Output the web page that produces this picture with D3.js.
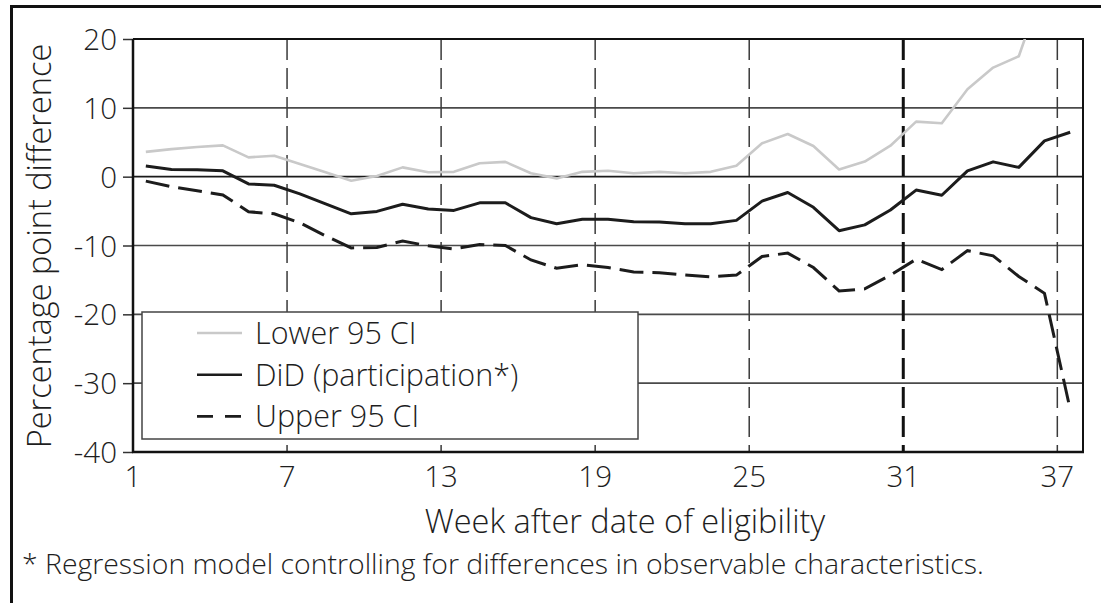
<!DOCTYPE html>
<html>
<head>
<meta charset="utf-8">
<script src="https://cdn.jsdelivr.net/npm/d3@7"></script>
<style>
  html, body { margin: 0; padding: 0; background: #fff; }
  svg { display: block; font-family: "Open Sans", "Noto Sans", sans-serif; font-weight: 350; }
</style>
</head>
<body>
<svg id="chart" width="1101" height="603"></svg>
<script>
// Week categories and labelled ticks
const weeks = d3.range(1, 38);
const weekTicks = [1, 7, 13, 19, 25, 31, 37];
const yTicks = [20, 10, 0, -10, -20, -30, -40];

// Series (percentage points), one value per week
const lowerCI = [3.6, 4.0, 4.3, 4.55, 2.8, 3.05, 1.85, 0.65, -0.6, 0.1, 1.35, 0.65, 0.7, 1.95, 2.15, 0.5, -0.25, 0.7, 0.85, 0.5, 0.7, 0.5, 0.7, 1.6, 4.85, 6.2, 4.45, 1.05, 2.2, 4.5, 8.0, 7.75, 12.7, 15.85, 17.5, 28.2, 46.5];
const did = [1.55, 1.05, 1.0, 0.85, -1.05, -1.25, -2.5, -3.95, -5.4, -5.05, -4.0, -4.7, -4.9, -3.8, -3.8, -5.95, -6.85, -6.2, -6.2, -6.55, -6.6, -6.85, -6.85, -6.35, -3.55, -2.3, -4.45, -7.85, -7.0, -4.85, -1.95, -2.7, 0.85, 2.15, 1.35, 5.2, 6.45];
const upperCI = [-0.65, -1.45, -2.05, -2.65, -5.1, -5.4, -6.7, -8.6, -10.35, -10.3, -9.35, -10.05, -10.5, -9.85, -10.0, -12.1, -13.3, -12.8, -13.2, -13.85, -13.95, -14.3, -14.55, -14.3, -11.6, -11.1, -13.2, -16.6, -16.3, -14.3, -12.0, -13.5, -10.75, -11.5, -14.5, -16.95, -33.8];

const seriesNames = ["Lower 95 CI", "DiD (participation*)", "Upper 95 CI"];
const highlightWeek = 31;

const svg = d3.select("#chart");
const plotL = 133, plotR = 1083, plotT = 39, plotB = 452;
const textColor = "#1e1e1e";

const x = d3.scaleBand().domain(weeks).range([plotL, plotR]).paddingInner(0).paddingOuter(0);
const y = d3.scaleLinear().domain([-40, 20]).range([plotB, plotT]);
const cx = w => x(w) + x.bandwidth() / 2;

// Outer frame (extends past the page edge on right/bottom)
svg.append("path")
  .attr("d", "M11.5,640 L11.5,6.5 L1140,6.5")
  .attr("fill", "none").attr("stroke", "#111").attr("stroke-width", 3);

svg.append("defs").append("clipPath").attr("id", "plotClip")
  .append("rect").attr("x", plotL).attr("y", plotT).attr("width", plotR - plotL).attr("height", plotB - plotT);

// Horizontal gridlines
svg.append("g").selectAll("line")
  .data(yTicks.filter(v => v !== -40 && v !== 20))
  .join("line")
  .attr("x1", plotL).attr("x2", plotR)
  .attr("y1", d => y(d)).attr("y2", d => y(d))
  .attr("stroke", d => d === 0 ? "#1a1a1a" : "#4a4a4a")
  .attr("stroke-width", 1.6);

// Vertical dashed week markers
svg.append("g").selectAll("line")
  .data(weekTicks.filter(w => w !== 1))
  .join("line")
  .attr("x1", d => x(d)).attr("x2", d => x(d))
  .attr("y1", plotT).attr("y2", plotB)
  .attr("stroke", d => d === highlightWeek ? "#111" : "#3a3a3a")
  .attr("stroke-width", d => d === highlightWeek ? 3 : 1.5)
  .attr("stroke-dasharray", "21,8");

// Top and right frame of plot area
svg.append("path")
  .attr("d", `M${plotL},${plotT} L${plotR},${plotT} L${plotR},${plotB}`)
  .attr("fill", "none").attr("stroke", "#111").attr("stroke-width", 2);

// Y axis (plain hyphen for negatives)
const yAxis = d3.axisLeft(y).tickValues(yTicks).tickSize(10).tickPadding(6).tickFormat(d => String(d));
const gy = svg.append("g").attr("transform", `translate(${plotL},0)`).call(yAxis);
gy.select(".domain").remove();
gy.selectAll(".tick line").attr("stroke", "#333").attr("stroke-width", 1.5);
gy.selectAll(".tick text").attr("font-size", 29.5).attr("fill", textColor)
  .attr("font-family", "'Open Sans', sans-serif").attr("dy", "0.36em");

// X axis labels at category boundaries
const gx = svg.append("g");
gx.selectAll("text").data(weekTicks).join("text")
  .attr("x", d => x(d)).attr("y", 487)
  .attr("text-anchor", "middle").attr("font-size", 29.5).attr("fill", textColor)
  .text(d => d);

// Axis lines
svg.append("line").attr("x1", plotL).attr("x2", plotL).attr("y1", plotT).attr("y2", plotB + 1)
  .attr("stroke", "#111").attr("stroke-width", 2.5);
svg.append("line").attr("x1", plotL - 1).attr("x2", plotR + 1).attr("y1", plotB).attr("y2", plotB)
  .attr("stroke", "#111").attr("stroke-width", 2.5);

// Series lines
const line = d3.line().x((d, i) => cx(weeks[i])).y(d => y(d));
const plot = svg.append("g").attr("clip-path", "url(#plotClip)");
plot.append("path").datum(lowerCI).attr("d", line)
  .attr("fill", "none").attr("stroke", "#c9c9c9").attr("stroke-width", 2.6).attr("stroke-linejoin", "round");
plot.append("path").datum(did).attr("d", line)
  .attr("fill", "none").attr("stroke", "#1c1c1c").attr("stroke-width", 3).attr("stroke-linejoin", "round");
plot.append("path").datum(upperCI).attr("d", line)
  .attr("fill", "none").attr("stroke", "#1c1c1c").attr("stroke-width", 3).attr("stroke-dasharray", "24,9");

// Legend
const lg = svg.append("g");
lg.append("rect").attr("x", 142).attr("y", 312).attr("width", 496).attr("height", 127)
  .attr("fill", "#fff").attr("stroke", "#444").attr("stroke-width", 1.5);
const legendStyles = [
  { stroke: "#c9c9c9", width: 2.6, dash: null },
  { stroke: "#1c1c1c", width: 2.6, dash: null },
  { stroke: "#1c1c1c", width: 2.6, dash: "16,12" }
];
seriesNames.forEach((name, i) => {
  const yy = 333 + i * 41.7;
  lg.append("line").attr("x1", 197).attr("x2", 242).attr("y1", yy).attr("y2", yy)
    .attr("stroke", legendStyles[i].stroke).attr("stroke-width", legendStyles[i].width)
    .attr("stroke-dasharray", legendStyles[i].dash);
  lg.append("text").attr("x", 255).attr("y", yy + 10.8)
    .attr("font-size", 30.5).attr("fill", textColor).text(name);
});

// Axis titles
svg.append("text")
  .attr("transform", `translate(51,246) rotate(-90)`)
  .attr("text-anchor", "middle").attr("font-size", 32.5).attr("fill", textColor)
  .text("Percentage point difference");
svg.append("text")
  .attr("x", 625).attr("y", 533)
  .attr("text-anchor", "middle").attr("font-size", 32.5).attr("fill", textColor)
  .text("Week after date of eligibility");

// Footnote
svg.append("text")
  .attr("x", 22).attr("y", 574)
  .attr("font-size", 28.4).attr("fill", textColor)
  .text("* Regression model controlling for differences in observable characteristics.");
</script>
</body>
</html>
